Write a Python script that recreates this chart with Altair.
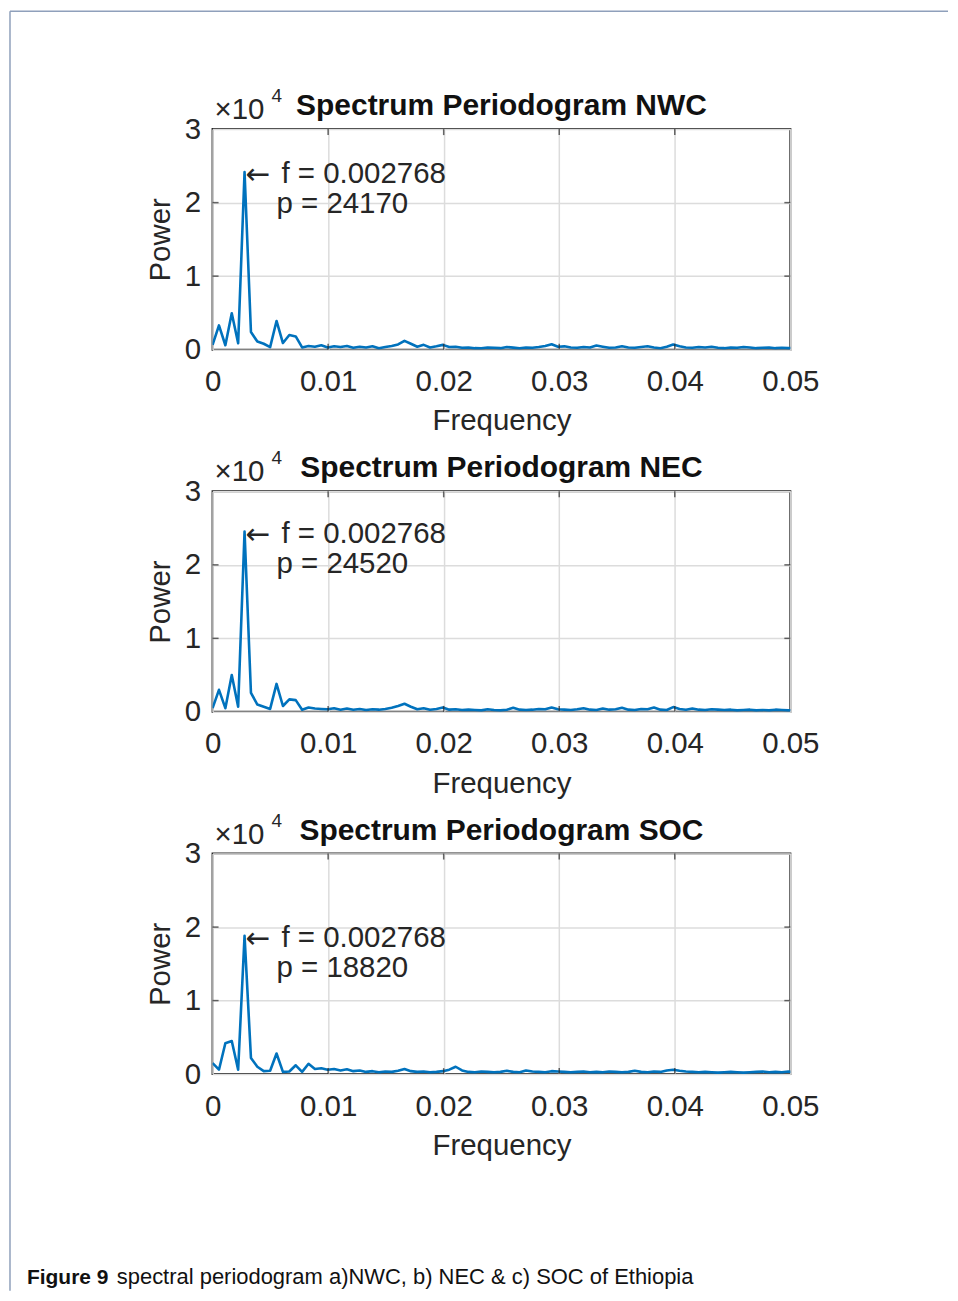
import altair as alt
import pandas as pd

# ---------------- data ----------------
freq = [0, 0.000554, 0.001107, 0.001661, 0.002214, 0.002768, 0.003322, 0.003875, 0.004429, 0.004982,
        0.005536, 0.00609, 0.006643, 0.007197, 0.00775, 0.008304, 0.008858, 0.009411, 0.009965, 0.010518,
        0.011072, 0.011626, 0.012179, 0.012733, 0.013286, 0.01384, 0.014394, 0.014947, 0.015501, 0.016054,
        0.016608, 0.017162, 0.017715, 0.018269, 0.018822, 0.019376, 0.01993, 0.020483, 0.021037, 0.02159,
        0.022144, 0.022698, 0.023251, 0.023805, 0.024358, 0.024912, 0.025466, 0.026019, 0.026573, 0.027126,
        0.02768, 0.028234, 0.028787, 0.029341, 0.029894, 0.030448, 0.031002, 0.031555, 0.032109, 0.032662,
        0.033216, 0.03377, 0.034323, 0.034877, 0.03543, 0.035984, 0.036538, 0.037091, 0.037645, 0.038198,
        0.038752, 0.039306, 0.039859, 0.040413, 0.040966, 0.04152, 0.042074, 0.042627, 0.043181, 0.043734,
        0.044288, 0.044842, 0.045395, 0.045949, 0.046502, 0.047056, 0.04761, 0.048163, 0.048717, 0.04927,
        0.049824, 0.050378]

power_nwc = [640, 3300, 600, 4950, 860, 24170, 2400, 1100, 800, 350,
             3900, 900, 2000, 1800, 300, 500, 400, 600, 300, 450,
             350, 500, 250, 400, 300, 450, 200, 350, 500, 700,
             1200, 800, 400, 650, 300, 450, 650, 350, 400, 250,
             300, 200, 180, 300, 250, 200, 350, 270, 200, 300,
             250, 350, 500, 730, 400, 450, 300, 250, 350, 300,
             550, 400, 250, 300, 450, 300, 250, 350, 450, 300,
             200, 400, 700, 450, 300, 250, 350, 300, 400, 250,
             200, 300, 250, 350, 300, 200, 250, 300, 200, 250,
             200, 250]

power_nec = [500, 3000, 500, 5000, 700, 24520, 2600, 1000, 700, 400,
             3800, 800, 1700, 1600, 300, 600, 450, 400, 350, 500,
             300, 450, 300, 400, 250, 350, 300, 400, 550, 800,
             1100, 700, 350, 500, 300, 400, 600, 300, 350, 250,
             300, 250, 200, 350, 250, 200, 300, 550, 300, 250,
             300, 400, 350, 600, 350, 300, 250, 350, 500, 300,
             250, 450, 300, 350, 550, 300, 250, 400, 350, 600,
             300, 250, 650, 400, 300, 450, 300, 250, 350, 300,
             250, 300, 200, 250, 300, 200, 250, 200, 300, 250,
             200, 250]

power_soc = [1500, 600, 4200, 4500, 600, 18820, 2200, 1000, 400, 450,
             2800, 300, 350, 1200, 300, 1400, 700, 800, 600, 700,
             500, 650, 400, 500, 300, 400, 250, 350, 300, 450,
             700, 400, 300, 350, 250, 300, 400, 600, 1000, 500,
             300, 250, 350, 300, 250, 300, 450, 300, 250, 500,
             350, 300, 250, 400, 350, 300, 250, 300, 350, 250,
             300, 250, 350, 300, 250, 300, 450, 300, 250, 350,
             300, 500, 600, 450, 350, 300, 250, 300, 250, 200,
             250, 300, 250, 200, 250, 300, 350, 250, 300, 250,
             350, 250]

regions = ["NWC", "NEC", "SOC"]
series = [power_nwc, power_nec, power_soc]
peak_freq = 0.002768
peak_power = [24170, 24520, 18820]
peak_freq_label = "f = 0.002768"
peak_power_labels = ["p = 24170", "p = 24520", "p = 18820"]

x_ticks = [0, 0.01, 0.02, 0.03, 0.04, 0.05]
y_ticks = [0, 10000, 20000, 30000]
inner_x_ticks = [0.01, 0.02, 0.03, 0.04]
inner_y_ticks = [10000, 20000]

caption_bold = "Figure 9"
caption_rest = "spectral periodogram a)NWC, b) NEC & c) SOC of Ethiopia"

# ---------------- style ----------------
W, H = 579, 221
SPACING = 142
FONT = "Liberation Sans"
INK = "#262626"
BLUE = "#0072BD"
FS = 29.5

xs = alt.Scale(domain=[0, 0.05], nice=False, zero=False)
ys = alt.Scale(domain=[0, 30000], nice=False)

XAXIS = alt.Axis(values=x_ticks, title="Frequency", grid=True, domain=False, tickSize=0,
                 labelExpr="datum.value == 0 ? '0' : format(datum.value, '.2f')",
                 labelFlush=False, labelOverlap=False, labelBound=False,
                 labelPadding=18, titlePadding=11)
YAXIS = alt.Axis(values=y_ticks, title="Power", grid=True, domain=False, tickSize=0,
                 labelExpr="format(datum.value / 10000, 'd')",
                 labelFlush=False, labelOverlap=False, labelBound=False,
                 labelPadding=12, titlePadding=9)


def X(field="f"):
    return alt.X(f"{field}:Q", scale=xs, axis=XAXIS)


def Y(field="p"):
    return alt.Y(f"{field}:Q", scale=ys, axis=YAXIS)


def panel(i):
    name = regions[i]
    df = pd.DataFrame({"f": freq, "p": series[i]})
    line = alt.Chart(df).mark_line(color=BLUE, strokeWidth=2.6, clip=True,
                                   strokeJoin="round").encode(x=X(), y=Y())

    tx = pd.DataFrame({"f": inner_x_ticks})
    ty = pd.DataFrame({"p": inner_y_ticks})
    tick_top = alt.Chart(tx).mark_tick(color=INK, size=6, thickness=1.5).encode(x=X(), y=alt.value(3))
    tick_bot = alt.Chart(tx).mark_tick(color=INK, size=6, thickness=1.5).encode(x=X(), y=alt.value(H - 3))
    tick_left = alt.Chart(ty).mark_tick(color=INK, size=6, thickness=1.5).encode(y=Y(), x=alt.value(3))
    tick_right = alt.Chart(ty).mark_tick(color=INK, size=6, thickness=1.5).encode(y=Y(), x=alt.value(W - 3))

    ann = pd.DataFrame({"f": [peak_freq], "p": [peak_power[i]],
                        "t1": [peak_freq_label], "t2": [peak_power_labels[i]]})
    arrow = alt.Chart(ann).mark_text(text="\u2190", font="DejaVu Sans", fontSize=FS, color=INK,
                                     align="left", baseline="middle", dx=1, dy=3).encode(x=X(), y=Y())
    t1 = alt.Chart(ann).mark_text(font=FONT, fontSize=FS, color=INK,
                                  align="left", baseline="middle", dx=37, dy=2).encode(
        x=X(), y=Y(), text="t1:N")
    t2 = alt.Chart(ann).mark_text(font=FONT, fontSize=FS, color=INK,
                                  align="left", baseline="middle", dx=32, dy=32).encode(
        x=X(), y=Y(), text="t2:N")

    one = pd.DataFrame({"a": [0]})
    title = alt.Chart(one).mark_text(text=f"Spectrum Periodogram {name}", font=FONT, fontSize=30,
                                     fontWeight="bold", color="#111111", align="center",
                                     baseline="alphabetic").encode(
        x=alt.value(W / 2), y=alt.value(-14))
    exp1 = alt.Chart(one).mark_text(text="\u00d710", font=FONT, fontSize=FS, color=INK,
                                    align="left", baseline="alphabetic").encode(
        x=alt.value(2), y=alt.value(-10))
    exp2 = alt.Chart(one).mark_text(text="4", font=FONT, fontSize=19, color=INK,
                                    align="left", baseline="alphabetic").encode(
        x=alt.value(59), y=alt.value(-27))

    layers = [line, tick_top, tick_bot, tick_left, tick_right, arrow, t1, t2, title, exp1, exp2]

    if i == 0:
        frame_top = alt.Chart(one).mark_rule(color="#8fa0bb", strokeWidth=1.5).encode(
            x=alt.value(-203), x2=alt.value(737), y=alt.value(-118))
        frame_left = alt.Chart(one).mark_rule(color="#8fa0bb", strokeWidth=1.5).encode(
            x=alt.value(-203), y=alt.value(-118), y2=alt.value(1164))
        layers = [frame_top, frame_left] + layers
    if i == 2:
        cap1 = alt.Chart(one).mark_text(text=caption_bold, font=FONT, fontSize=21, fontWeight="bold",
                                        color="#111111", align="left", baseline="alphabetic").encode(
            x=alt.value(-186), y=alt.value(431))
        cap2 = alt.Chart(one).mark_text(text=caption_rest, font=FONT, fontSize=22,
                                        color="#111111", align="left", baseline="alphabetic").encode(
            x=alt.value(-96), y=alt.value(431))
        layers = layers + [cap1, cap2]

    return alt.layer(*layers).properties(width=W, height=H)


chart = alt.vconcat(panel(0), panel(1), panel(2), spacing=SPACING, bounds="flush").properties(
    padding={"left": 0, "top": 0, "right": 0, "bottom": 0},
    background="white",
).configure_view(
    stroke=INK, strokeWidth=2
).configure_axis(
    labelFont=FONT, labelFontSize=FS, labelColor=INK,
    titleFont=FONT, titleFontSize=FS, titleColor=INK, titleFontWeight="normal",
    gridColor="#dcdcdc", gridWidth=1.5,
)

chart.save("out.html", embed_options={"renderer": "svg", "actions": False})
